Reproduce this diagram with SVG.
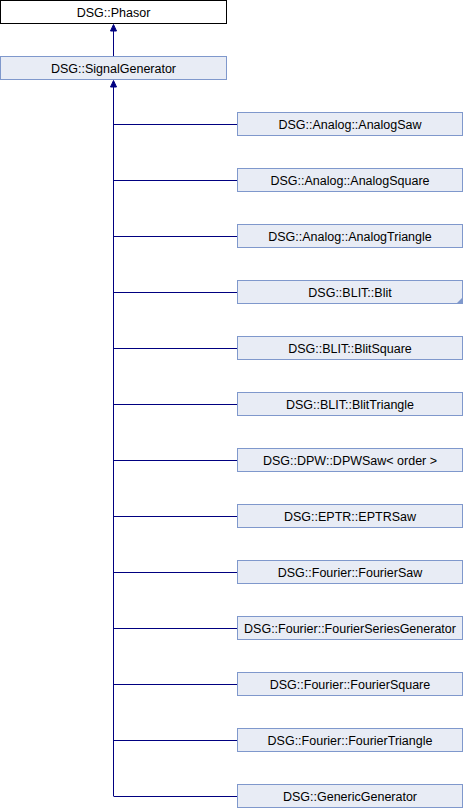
<svg xmlns="http://www.w3.org/2000/svg" width="464" height="808" viewBox="0 0 464 808">
<style>
.box{fill:#E8ECF5;stroke:#7F98CC;stroke-width:1}
.root{fill:#FFFFFF;stroke:#000000;stroke-width:1}
text{font-family:"Liberation Sans",Arial,sans-serif;font-size:12.5px;fill:#000;text-anchor:middle}
.ln{stroke:#000080;stroke-width:1;fill:none}
.ah{fill:#000080;stroke:#000080;stroke-width:1}
</style>
<g id="connectors">
<path class="ln" d="M113.5,56 V30"/>
<polygon class="ah" points="113.5,24.5 110.5,31 116.5,31"/>
<path class="ln" d="M113.5,796 V86"/>
<polygon class="ah" points="113.5,80.5 110.5,87 116.5,87"/>
<path class="ln" d="M113.5,124.5 H237 M113.5,180.5 H237 M113.5,236.5 H237 M113.5,292.5 H237 M113.5,348.5 H237 M113.5,404.5 H237 M113.5,460.5 H237 M113.5,516.5 H237 M113.5,572.5 H237 M113.5,628.5 H237 M113.5,684.5 H237 M113.5,740.5 H237 M113.5,796.5 H237"/>
</g>
<g id="phasor"><rect class="root" x="0.5" y="0.5" width="226" height="23"/><text x="113.5" y="16.5">DSG::Phasor</text></g>
<g id="signalgenerator"><rect class="box" x="0.5" y="56.5" width="226" height="23"/><text x="113.5" y="72.5">DSG::SignalGenerator</text></g>
<g id="analogsaw"><rect class="box" x="237.5" y="112.5" width="225" height="23"/><text x="350" y="128.5">DSG::Analog::AnalogSaw</text></g>
<g id="analogsquare"><rect class="box" x="237.5" y="168.5" width="225" height="23"/><text x="350" y="184.5">DSG::Analog::AnalogSquare</text></g>
<g id="analogtriangle"><rect class="box" x="237.5" y="224.5" width="225" height="23"/><text x="350" y="240.5">DSG::Analog::AnalogTriangle</text></g>
<g id="blit"><rect class="box" x="237.5" y="280.5" width="225" height="23"/><path d="M462,298 V303 H457 Z" fill="#7F98CC"/><text x="350" y="296.5">DSG::BLIT::Blit</text></g>
<g id="blitsquare"><rect class="box" x="237.5" y="336.5" width="225" height="23"/><text x="350" y="352.5">DSG::BLIT::BlitSquare</text></g>
<g id="blittriangle"><rect class="box" x="237.5" y="392.5" width="225" height="23"/><text x="350" y="408.5">DSG::BLIT::BlitTriangle</text></g>
<g id="dpwsaw"><rect class="box" x="237.5" y="448.5" width="225" height="23"/><text x="350" y="464.5">DSG::DPW::DPWSaw&lt; order &gt;</text></g>
<g id="eptrsaw"><rect class="box" x="237.5" y="504.5" width="225" height="23"/><text x="350" y="520.5">DSG::EPTR::EPTRSaw</text></g>
<g id="fouriersaw"><rect class="box" x="237.5" y="560.5" width="225" height="23"/><text x="350" y="576.5">DSG::Fourier::FourierSaw</text></g>
<g id="fourierseriesgenerator"><rect class="box" x="237.5" y="616.5" width="225" height="23"/><text x="350" y="632.5">DSG::Fourier::FourierSeriesGenerator</text></g>
<g id="fouriersquare"><rect class="box" x="237.5" y="672.5" width="225" height="23"/><text x="350" y="688.5">DSG::Fourier::FourierSquare</text></g>
<g id="fouriertriangle"><rect class="box" x="237.5" y="728.5" width="225" height="23"/><text x="350" y="744.5">DSG::Fourier::FourierTriangle</text></g>
<g id="genericgenerator"><rect class="box" x="237.5" y="784.5" width="225" height="23"/><text x="350" y="800.5">DSG::GenericGenerator</text></g>
</svg>
